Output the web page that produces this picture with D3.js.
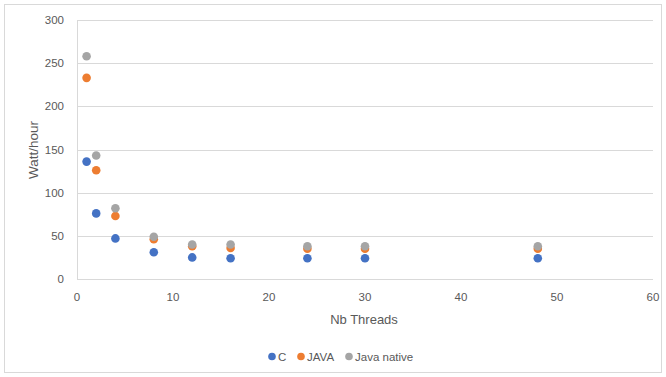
<!DOCTYPE html>
<html><head><meta charset="utf-8">
<script src="https://cdn.jsdelivr.net/npm/d3@7"></script>
<style>body{margin:0;background:#fff}svg{display:block}text{font-family:"Liberation Sans",Arial,sans-serif;fill:#595959}</style>
</head><body><svg id="c" width="666" height="377"></svg>
<script>
const threads = [1, 2, 4, 8, 12, 16, 24, 30, 48];
const cVals = [136, 76, 47, 31, 25, 24, 24, 24, 24];
const javaVals = [233, 126, 73, 46, 38, 36, 35, 35, 35];
const nativeVals = [258, 143, 82, 49, 40, 40, 38, 38, 38];
const seriesNames = ["C", "JAVA", "Java native"];
const colors = ["#4472C4", "#ED7D31", "#A5A5A5"];
const xTicks = [0, 10, 20, 30, 40, 50, 60];
const yTicks = [0, 50, 100, 150, 200, 250, 300];

const svg = d3.select("#c");
svg.append("rect").attr("x",4.5).attr("y",4.5).attr("width",657).attr("height",368)
  .attr("fill","#fff").attr("stroke","#d9d9d9");
const x = d3.scaleLinear().domain([0,60]).range([77,653]);
const y = d3.scaleLinear().domain([0,300]).range([279,20]);

const g = svg.append("g");
g.selectAll(".gl").data(yTicks).join("line")
  .attr("x1",x(0)).attr("x2",x(60)).attr("y1",d=>Math.round(y(d))+0.5).attr("y2",d=>Math.round(y(d))+0.5)
  .attr("stroke","#d9d9d9").attr("stroke-width",1);
g.append("line").attr("x1",x(0)+0.5).attr("x2",x(0)+0.5).attr("y1",y(300)).attr("y2",y(0))
  .attr("stroke","#d9d9d9");

g.selectAll(".yt").data(yTicks).join("text")
  .attr("x",64).attr("y",d=>y(d)).attr("dy","0.35em").attr("text-anchor","end")
  .attr("font-size",11.5).text(d=>d);
g.selectAll(".xt").data(xTicks).join("text")
  .attr("x",d=>x(d)).attr("y",297).attr("dy","0.35em").attr("text-anchor","middle")
  .attr("font-size",11.5).text(d=>d);

svg.append("text").attr("x",364).attr("y",319).attr("dy","0.35em").attr("text-anchor","middle")
  .attr("font-size",13).text("Nb Threads");
svg.append("text").attr("transform","translate(33,150) rotate(-90)").attr("dy","0.35em")
  .attr("text-anchor","middle").attr("font-size",13.5).text("Watt/hour");

const series = [cVals, javaVals, nativeVals];
series.forEach((vals,i)=>{
  svg.append("g").selectAll("circle").data(vals).join("circle")
    .attr("cx",(d,j)=>x(threads[j])).attr("cy",d=>y(d)).attr("r",4.3)
    .attr("fill",colors[i]);
});

const legX = [272, 301, 349];
const lg = svg.append("g");
seriesNames.forEach((n,i)=>{
  lg.append("circle").attr("cx",legX[i]).attr("cy",356.5).attr("r",3.8).attr("fill",colors[i]);
  lg.append("text").attr("x",legX[i]+6).attr("y",356.5).attr("dy","0.35em").attr("font-size",11.5).text(n);
});
</script></body></html>
